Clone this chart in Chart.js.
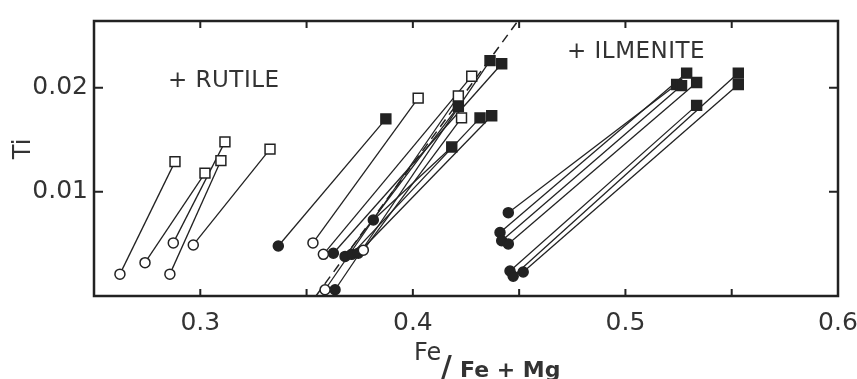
<!DOCTYPE html>
<html>
<head>
<meta charset="utf-8">
<script src="https://cdn.jsdelivr.net/npm/chart.js@4.4.1/dist/chart.umd.min.js"></script>
<style>
  html, body { margin: 0; padding: 0; background: #fff; }
  #plot { display: block; }
</style>
</head>
<body>
<canvas id="plot" width="857" height="379"></canvas>
<script>
// tie lines: low-Ti end (circle) to high-Ti end (square), Fe/(Fe+Mg) vs Ti
const lowFe  = [0.2622, 0.2740, 0.2873, 0.2857, 0.2967,
                0.3367, 0.3530, 0.3579, 0.3626, 0.3587, 0.3634, 0.3681, 0.3712, 0.3743, 0.3767, 0.3814,
                0.4449, 0.4410, 0.4418, 0.4449, 0.4457, 0.4472, 0.4519];
const lowTi  = [0.0021, 0.0032, 0.0051, 0.0021, 0.0049,
                0.0048, 0.0051, 0.0040, 0.0041, 0.0006, 0.0006, 0.0038, 0.0040, 0.0041, 0.0044, 0.0073,
                0.0080, 0.0061, 0.0053, 0.0050, 0.0024, 0.0019, 0.0023];
const highFe = [0.2881, 0.3022, 0.3116, 0.3097, 0.3328,
                0.3873, 0.4025, 0.4277, 0.4418, 0.4214, 0.4363, 0.4214, 0.4316, 0.4371, 0.4229, 0.4183,
                0.5241, 0.5288, 0.5264, 0.5335, 0.5335, 0.5531, 0.5531];
const highTi = [0.0129, 0.0118, 0.0148, 0.0130, 0.0141,
                0.0170, 0.0190, 0.0211, 0.0223, 0.0192, 0.0226, 0.0182, 0.0171, 0.0173, 0.0171, 0.0143,
                0.0203, 0.0214, 0.0202, 0.0205, 0.0183, 0.0214, 0.0203];
const filled = [0, 0, 0, 0, 0,
                1, 0, 0, 1, 0, 1, 1, 1, 1, 0, 1,
                1, 1, 1, 1, 1, 1, 1];

// dashed boundary
const dashFe = [0.3544, 0.4494];
const dashTi = [0, 0.0264];

const xTicks = [0.3, 0.4, 0.5, 0.6];
const yTicks = [0.01, 0.02];

const fieldLabels = ['+ RUTILE', '+ ILMENITE'];
const fieldFe = [0.2848, 0.4725];
const fieldTi = [0.0206, 0.0234];

const ink = '#222';
const font = '"DejaVu Sans", sans-serif';

const datasets = [];
lowFe.forEach((fe, i) => {
    datasets.push({
        data: [{x: fe, y: lowTi[i]}, {x: highFe[i], y: highTi[i]}],
        showLine: true,
        borderColor: ink,
        borderWidth: 1.3,
        pointRadius: 0,
        order: 2
    });
});
datasets.push({
    data: dashFe.map((fe, i) => ({x: fe, y: dashTi[i]})),
    showLine: true,
    borderColor: ink,
    borderWidth: 1.5,
    borderDash: [9, 6],
    pointRadius: 0,
    order: 2
});

function markers(style, solid, fe, ti) {
    const pts = [];
    fe.forEach((v, i) => { if (filled[i] === solid) pts.push({x: v, y: ti[i]}); });
    return {
        data: pts,
        showLine: false,
        pointStyle: style,
        pointRadius: style === 'rect' ? 7 : 5,
        pointBorderWidth: 1.5,
        pointBorderColor: ink,
        pointBackgroundColor: solid ? ink : '#fff',
        clip: false,
        order: 0
    };
}
datasets.push(markers('circle', 0, lowFe, lowTi));
datasets.push(markers('circle', 1, lowFe, lowTi));
datasets.push(markers('rect', 0, highFe, highTi));
datasets.push(markers('rect', 1, highFe, highTi));

// frame with inward ticks, axis titles and field labels
const frame = {
    id: 'frame',
    afterDraw(chart) {
        const {ctx, chartArea: a, scales: {x, y}} = chart;
        ctx.save();
        ctx.strokeStyle = ink;
        ctx.lineWidth = 2.5;
        ctx.strokeRect(a.left, a.top, a.right - a.left, a.bottom - a.top);
        ctx.lineWidth = 2;
        ctx.beginPath();
        for (let v = 0.3; v < 0.6; v += 0.05) {
            const px = x.getPixelForValue(v);
            ctx.moveTo(px, a.bottom); ctx.lineTo(px, a.bottom - 7);
            ctx.moveTo(px, a.top); ctx.lineTo(px, a.top + 7);
        }
        yTicks.forEach(v => {
            const py = y.getPixelForValue(v);
            ctx.moveTo(a.left, py); ctx.lineTo(a.left + 9, py);
            ctx.moveTo(a.right, py); ctx.lineTo(a.right - 9, py);
        });
        ctx.stroke();

        ctx.fillStyle = '#333';
        ctx.textBaseline = 'middle';
        ctx.letterSpacing = '0.5px';
        ctx.font = '23px ' + font;
        fieldLabels.forEach((t, i) => {
            ctx.fillText(t, x.getPixelForValue(fieldFe[i]), y.getPixelForValue(fieldTi[i]));
        });
        ctx.letterSpacing = '0px';

        ctx.textBaseline = 'alphabetic';
        ctx.font = '24px ' + font;
        ctx.fillText('Fe', 414, 360);
        ctx.font = '38px ' + font;
        ctx.fillText('/', 439, 382);
        ctx.font = 'bold 22px ' + font;
        ctx.fillText('Fe + Mg', 460, 377);

        ctx.translate(30, 149);
        ctx.rotate(-Math.PI / 2);
        ctx.textAlign = 'center';
        ctx.font = '24px ' + font;
        ctx.fillText('Ti', 0, 0);
        ctx.restore();
    }
};

new Chart(document.getElementById('plot'), {
    type: 'scatter',
    data: {datasets},
    options: {
        responsive: false,
        animation: false,
        layout: {padding: {top: 11, right: 19, left: 0, bottom: 0}},
        plugins: {legend: {display: false}, tooltip: {enabled: false}},
        scales: {
            x: {
                type: 'linear',
                min: 0.25,
                max: 0.6,
                grid: {display: false, drawTicks: false},
                border: {display: false},
                afterBuildTicks: s => { s.ticks = xTicks.map(v => ({value: v})); },
                afterFit: s => { s.height = 83; s.paddingLeft = 0; s.paddingRight = 0; },
                ticks: {
                    autoSkip: false,
                    maxRotation: 0,
                    padding: 12,
                    color: '#333',
                    font: {family: font, size: 25},
                    callback: v => v.toFixed(1)
                }
            },
            y: {
                type: 'linear',
                min: 0,
                max: 0.0264,
                grid: {display: false, drawTicks: false},
                border: {display: false},
                afterBuildTicks: s => { s.ticks = yTicks.map(v => ({value: v})); },
                afterFit: s => { s.width = 94; },
                ticks: {
                    autoSkip: false,
                    padding: 6,
                    color: '#333',
                    font: {family: font, size: 25},
                    callback: v => v.toFixed(2)
                }
            }
        }
    },
    plugins: [frame]
});
</script>
</body>
</html>
